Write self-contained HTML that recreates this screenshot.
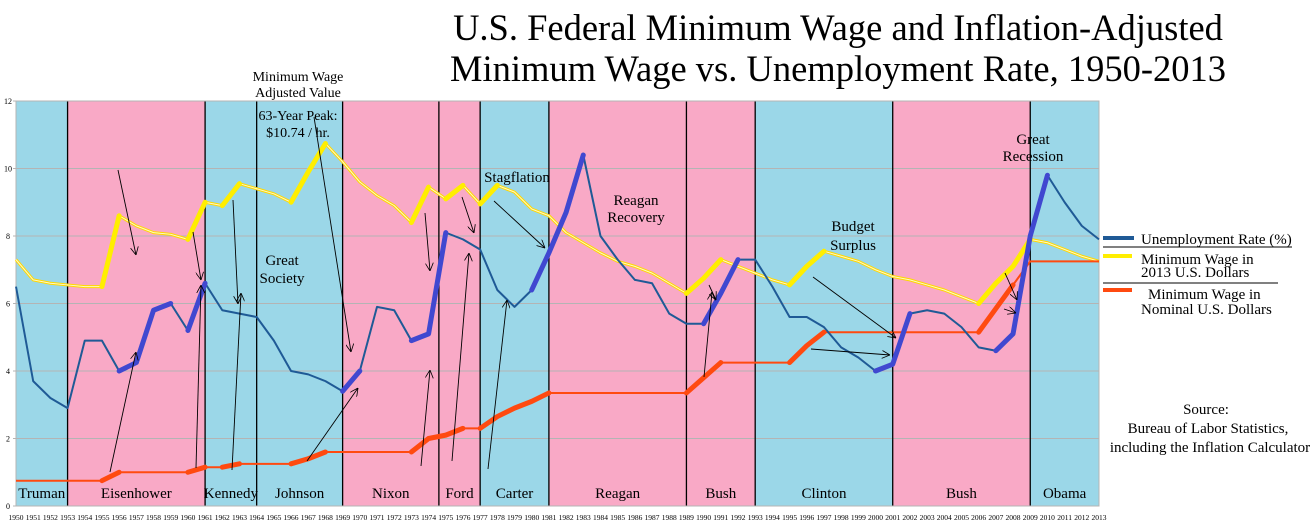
<!DOCTYPE html>
<html><head><meta charset="utf-8"><style>
body{margin:0;background:#fff;width:1312px;height:526px;overflow:hidden;font-family:"Liberation Serif",serif}
svg text{font-family:"Liberation Serif",serif}
</style></head><body>
<svg id="chart" width="1312" height="526" xmlns="http://www.w3.org/2000/svg">
<defs><marker id="ah" viewBox="0 0 10 10" refX="10" refY="5" markerWidth="9" markerHeight="9" orient="auto"><path d="M0,0 L10,5 L0,10" fill="none" stroke="#000" stroke-width="1"/></marker></defs>
<g id="bg"></g><g id="grid"></g><g id="series"></g><g id="arrows"></g><g id="labels"></g>
</svg>
<script>
const years=[];for(let y=1950;y<=2013;y++)years.push(y);
const unemployment=[6.5,3.7,3.2,2.9,4.9,4.9,4.0,4.25,5.8,6.0,5.2,6.6,5.8,5.7,5.6,4.9,4.0,3.9,3.7,3.4,4.0,5.9,5.8,4.9,5.1,8.1,7.9,7.6,6.4,5.9,6.4,7.5,8.7,10.4,8.0,7.3,6.7,6.6,5.7,5.4,5.4,6.3,7.3,7.3,6.5,5.6,5.6,5.3,4.7,4.4,4.0,4.2,5.7,5.8,5.7,5.3,4.7,4.6,5.1,8.0,9.8,9.0,8.3,7.9];
const realWage=[7.3,6.7,6.6,6.55,6.5,6.5,8.6,8.3,8.1,8.05,7.9,9.0,8.9,9.55,9.4,9.25,9.0,9.9,10.74,10.2,9.6,9.2,8.9,8.4,9.45,9.1,9.5,8.95,9.5,9.3,8.8,8.6,8.1,7.8,7.5,7.25,7.1,6.9,6.6,6.3,6.75,7.3,7.1,6.9,6.7,6.55,7.1,7.55,7.4,7.25,7.0,6.8,6.7,6.55,6.4,6.2,6.0,6.6,7.1,7.9,7.8,7.6,7.4,7.25];
const nominalWage=[0.75,0.75,0.75,0.75,0.75,0.75,1.0,1.0,1.0,1.0,1.0,1.15,1.15,1.25,1.25,1.25,1.25,1.4,1.6,1.6,1.6,1.6,1.6,1.6,2.0,2.1,2.3,2.3,2.65,2.9,3.1,3.35,3.35,3.35,3.35,3.35,3.35,3.35,3.35,3.35,3.8,4.25,4.25,4.25,4.25,4.25,4.75,5.15,5.15,5.15,5.15,5.15,5.15,5.15,5.15,5.15,5.15,5.85,6.55,7.25,7.25,7.25,7.25,7.25];
const yellowHi=[[1955,1956],[1960,1961],[1962,1963],[1966,1968],[1973,1974],[1975,1976],[1977,1978],[1989,1991],[1995,1997],[2006,2009]];
const blueHi=[[1956,1959],[1960,1961],[1969,1970],[1973,1975],[1980,1983],[1990,1992],[2000,2002],[2007,2010]];
const redHi=[[1955,1956],[1960,1961],[1962,1963],[1966,1968],[1973,1976],[1977,1981],[1989,1991],[1995,1997],[2006,2008]];
const presidents=["Truman","Eisenhower","Kennedy","Johnson","Nixon","Ford","Carter","Reagan","Bush","Clinton","Bush","Obama"];
const termStarts=[1950,1953,1961,1964,1969,1974.6,1977,1981,1989,1993,2001,2009,2013];
const partyBlue=[1,0,1,1,0,0,1,0,0,1,0,1];
const yTicks=[0,2,4,6,8,10,12];

const X0=16,X1=1099,Y0=506,Y1=101;
const xs=y=>X0+(y-1950)*(X1-X0)/63;
const ys=v=>Y0-v*(Y0-Y1)/12;
const NS="http://www.w3.org/2000/svg";
function mk(tag,attrs,parent,txt){const e=document.createElementNS(NS,tag);for(const k in attrs)e.setAttribute(k,attrs[k]);if(txt!=null)e.textContent=txt;parent.appendChild(e);return e;}
const bg=document.getElementById('bg'),grid=document.getElementById('grid'),ser=document.getElementById('series'),lab=document.getElementById('labels'),arr=document.getElementById('arrows');

for(let i=0;i<presidents.length;i++){
  const a=xs(termStarts[i]),b=xs(termStarts[i+1]);
  const r=mk('rect',{x:a,y:Y1,width:b-a,height:Y0-Y1,fill:partyBlue[i]?'#9bd7e8':'#f9a9c6'},bg);
  
  
  const t=mk('text',{x:(a+b)/2,y:Y0-8,'font-size':15,'text-anchor':'middle'},lab,presidents[i]);
  
  
}
yTicks.forEach(v=>{
  const l=mk('line',{x1:X0-3,x2:X1,y1:ys(v),y2:ys(v),stroke:'#b4b4b4','stroke-width':1},grid);
  
  
  const t=mk('text',{x:8,y:ys(v)+3,'font-size':8,'text-anchor':'middle','font-family':'Liberation Sans'},grid,v);
  
  
});
for(let i=1;i<termStarts.length-1;i++){
  const l=mk('line',{x1:xs(termStarts[i]),x2:xs(termStarts[i]),y1:Y1,y2:Y0,stroke:'#000','stroke-width':1.3},grid);
  
  
}
mk('rect',{x:X0,y:Y1,width:X1-X0,height:Y0-Y1,fill:'none',stroke:'#b4b4b4'},grid);
years.forEach(y=>{
  const t=mk('text',{x:xs(y),y:520,'font-size':7.5,'text-anchor':'middle','font-family':'Liberation Sans'},grid,y);
  
  
});
function line(vals,color,w,name){
  const p=mk('polyline',{points:vals.map((v,i)=>xs(years[i])+','+ys(v)).join(' '),fill:'none',stroke:color,'stroke-width':w,'stroke-linejoin':'round'},ser);
  
  
}
function hi(vals,ranges,color,w,name){
  ranges.forEach(r=>{
    const pts=[];years.forEach((y,i)=>{if(y>=r[0]&&y<=r[1])pts.push(xs(y)+','+ys(vals[i]));});
    const p=mk('polyline',{points:pts.join(' '),fill:'none',stroke:color,'stroke-width':w,'stroke-linejoin':'round','stroke-linecap':'round'},ser);
    
    
  });
}
line(realWage,'#ffd800',3,'real-wage-line');
line(realWage,'#fff9c8',1,'real-wage-line-core');
line(nominalWage,'#ff4a10',2,'nominal-wage-line');
line(unemployment,'#1f5a96',2,'unemployment-line');
hi(realWage,yellowHi,'#ffee00',5,'real-wage-highlight');
hi(nominalWage,redHi,'#ff4a10',5,'nominal-wage-highlight');
hi(unemployment,blueHi,'#4048d0',5,'unemployment-highlight');

const arrows=[[118,170,136,255],[110,472,136,352],[193,232,201,280],[196,468,201,285],[233,200,238,304],[232,470,241,293],[314,117,351,352],[307,461,358,388],[425,213,430,271],[421,466,430,370],[462,197,474,233],[452,461,469,253],[494,201,545,248],[488,469,507,300],[704,377,712,292],[709,285,716,300],[813,277,896,338],[811,349,890,355],[1005,273,1017,300],[1004,309,1016,313]];
arrows.forEach(a=>{
  const l=mk('line',{x1:a[0],y1:a[1],x2:a[2],y2:a[3],stroke:'#000','stroke-width':0.9,'marker-end':'url(#ah)'},arr);
  
  
});
function txt(x,y,s,size,name,anchor){const t=mk('text',{x:x,y:y,'font-size':size,'text-anchor':anchor||'middle'},lab,s);return t;}
txt(838,40,'U.S. Federal Minimum Wage and Inflation-Adjusted',36.5,'chart-title-line-1');
txt(838,81,'Minimum Wage vs. Unemployment Rate, 1950-2013',36.5,'chart-title-line-2');
txt(298,81,'Minimum Wage',14,'peak-annotation');
txt(298,97,'Adjusted Value',14,'peak-annotation');
txt(298,120,'63-Year Peak:',14,'peak-annotation');
txt(298,137,'$10.74 / hr.',14,'peak-annotation');
txt(282,265,'Great',15,'great-society-label');
txt(282,283,'Society',15,'great-society-label');
txt(517,182,'Stagflation',15,'stagflation-label');
txt(636,205,'Reagan',15,'reagan-recovery-label');
txt(636,222,'Recovery',15,'reagan-recovery-label');
txt(853,231,'Budget',15,'budget-surplus-label');
txt(853,250,'Surplus',15,'budget-surplus-label');
txt(1033,144,'Great',15,'great-recession-label');
txt(1033,161,'Recession',15,'great-recession-label');
const lg=[[1103,1134,238,'#1f5a96'],[1103,1132,256,'#ffee00'],[1103,1132,290,'#ff4a10']];
lg.forEach(l=>{const e=mk('line',{x1:l[0],x2:l[1],y1:l[2],y2:l[2],stroke:l[3],'stroke-width':4},lab);});
txt(1141,244,'Unemployment Rate (%)',15,'legend-unemployment','start');
txt(1141,264,'Minimum Wage in',15,'legend-real-wage','start');
txt(1141,277,'2013 U.S. Dollars',15,'legend-real-wage','start');
txt(1148,299,'Minimum Wage in',15,'legend-nominal-wage','start');
txt(1141,314,'Nominal U.S. Dollars',15,'legend-nominal-wage','start');
mk('line',{x1:1103,x2:1292,y1:247,y2:247,stroke:'#000'},lab);
mk('line',{x1:1103,x2:1278,y1:283,y2:283,stroke:'#000'},lab);
txt(1206,414,'Source:',15,'source-note');
txt(1208,433,'Bureau of Labor Statistics,',15,'source-note');
txt(1210,452,'including the Inflation Calculator',15,'source-note');
</script>
</body></html>
